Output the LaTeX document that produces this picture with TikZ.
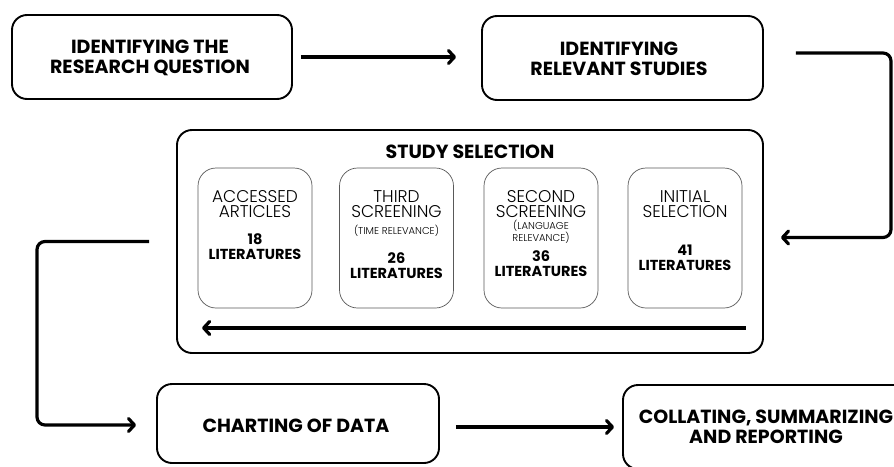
\documentclass[tikz,border=0pt]{standalone}
\usepackage{fontspec}
\setmainfont{Poppins}
\newfontfamily\plight{Poppins Light}
\usetikzlibrary{arrows.meta}
\tikzset{
  outerbox/.style={draw, line width=1.9pt, rounded corners=15pt, inner sep=0pt},
  innerbox/.style={draw=black!65, line width=0.7pt, rounded corners=18pt, minimum width=114pt, minimum height=140pt, inner sep=0pt},
  flow/.style={line width=3.2pt, rounded corners=8pt, -{Straight Barb[length=6pt,width=13pt,round]}},
  head/.style={font=\bfseries\fontsize{19}{19.5}\selectfont, align=center, inner sep=0pt},
  ttl/.style={font=\plight\fontsize{17}{15.5}\selectfont, align=center, inner sep=0pt, anchor=north},
  sub/.style={font=\plight\fontsize{10}{10.5}\selectfont, align=center, inner sep=0pt, anchor=north},
  num/.style={font=\bfseries\fontsize{14.5}{15}\selectfont, align=center, inner sep=0pt, anchor=north},
}
\begin{document}
\begin{tikzpicture}[x=1pt,y=-1pt]
\clip (0,0) rectangle (894,466);
\fill[white] (0,0) rectangle (894,466);

% main boxes
\node[outerbox, minimum width=280pt, minimum height=84pt] (rq) at (152,57) {};
\node[head] (rqt) at (150,58) {IDENTIFYING THE\\RESEARCH QUESTION};
\node[outerbox, minimum width=281pt, minimum height=84pt] (rs) at (622.5,58) {};
\node[head] (rst) at (619,59) {IDENTIFYING\\RELEVANT STUDIES};
\node[outerbox, minimum width=586pt, minimum height=223pt] (ss) at (470,241.5) {};
\node[head] (sst) at (470,152) {STUDY SELECTION};
\node[outerbox, minimum width=282pt, minimum height=79pt] (cd) at (298,423.5) {};
\node[head] (cdt) at (296,426) {CHARTING OF DATA};
\node[outerbox, minimum width=292pt, minimum height=84pt] (cr) at (769,427) {};
\node[head] (crt) at (766,427) {COLLATING, SUMMARIZING\\AND REPORTING};

% inner boxes
\node[innerbox] (acc) at (255,238) {};
\node[innerbox] (thr) at (396.5,238) {};
\node[innerbox] (sec) at (541,238) {};
\node[innerbox] (ini) at (685,238) {};

\node[ttl] (acct) at (255,190) {ACCESSED\\ARTICLES};
\node[num] (accn) at (255,233) {18\\LITERATURES};

\node[ttl] (thrt) at (396.5,190) {THIRD\\SCREENING};
\node[sub] (thrs) at (396.5,225) {(TIME RELEVANCE)};
\node[num] (thrn) at (396.5,252) {26\\LITERATURES};

\node[ttl] (sect) at (541,190) {SECOND\\SCREENING};
\node[sub] (secs) at (541,220) {(LANGUAGE\\RELEVANCE)};
\node[num] (secn) at (541,250) {36\\LITERATURES};

\node[ttl] (init) at (685,190) {INITIAL\\SELECTION};
\node[num] (inin) at (685,245) {41\\LITERATURES};

% connectors
\coordinate (rturn) at (891,150);
\coordinate (lturn) at (37,330);
\draw[flow] ([xshift=8pt]rq.east) -- ([xshift=-25pt]rq.east -| rs.west);
\draw[flow] ([xshift=32pt,yshift=5pt]rs.east) -| (rturn) |- ([xshift=17pt,yshift=4pt]ss.east);
\draw[flow] ([xshift=-18pt,yshift=26pt]ss.south east) -- ([xshift=26pt,yshift=26pt]ss.south west);
\draw[flow] ([xshift=-27pt]ss.west) -| (lturn) |- ([xshift=-20pt,yshift=-1.5pt]cd.west);
\draw[flow] ([xshift=16pt,yshift=-3.5pt]cd.east) -- ([xshift=-8pt]cr.west);
\end{tikzpicture}
\end{document}
